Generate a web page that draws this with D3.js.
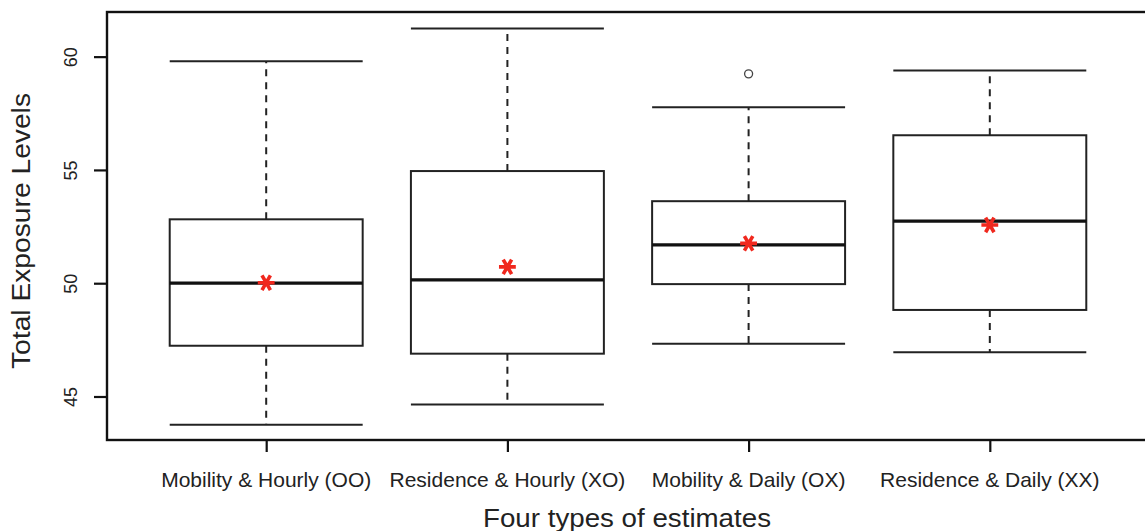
<!DOCTYPE html>
<html><head><meta charset="utf-8">
<script src="https://cdn.jsdelivr.net/npm/d3@7"></script>
<style>body{margin:0;background:#fff}svg{display:block}</style>
</head><body>
<svg id="c" width="1145" height="531"></svg>
<script>
const categories = ["Mobility & Hourly (OO)", "Residence & Hourly (XO)", "Mobility & Daily (OX)", "Residence & Daily (XX)"];
const whiskerLow  = [43.75, 44.65, 47.33, 46.95];
const q1          = [47.24, 46.89, 49.96, 48.82];
const medians     = [50.00, 50.15, 51.69, 52.74];
const q3          = [52.82, 54.95, 53.62, 56.53];
const whiskerHigh = [59.80, 61.24, 57.77, 59.39];
const means       = [50.02, 50.72, 51.76, 52.57];
const outliers    = [[], [], [59.24], []];
const yTicks      = [45, 50, 55, 60];

(function () {
const svg = d3.select("#c");
const pL = 107, pR = 1149, pT = 12, pB = 440;
const x = d3.scaleLinear().domain([0.34, 4.66]).range([pL, pR]);
const y = d3.scaleLinear().domain([43.08, 61.97]).range([pB, pT]);
const boxW = 0.8;
const font = "'Liberation Sans', Arial, Helvetica, sans-serif";
const col = "#222";

const data = categories.map((c, i) => ({c, i: i + 1, lo: whiskerLow[i], q1: q1[i], med: medians[i], q3: q3[i], hi: whiskerHigh[i], mean: means[i], out: outliers[i]}));

const g = svg.append("g");
const half = (x(1 + boxW / 2) - x(1 - boxW / 2)) / 2;

// whiskers (dashed)
g.append("g").selectAll("line").data(data).join("line")
  .attr("x1", d => x(d.i)).attr("x2", d => x(d.i))
  .attr("y1", d => y(d.q3)).attr("y2", d => y(d.hi))
  .attr("stroke", col).attr("stroke-width", 2).attr("stroke-dasharray", "7,6");
g.append("g").selectAll("line").data(data).join("line")
  .attr("x1", d => x(d.i)).attr("x2", d => x(d.i))
  .attr("y1", d => y(d.q1)).attr("y2", d => y(d.lo))
  .attr("stroke", col).attr("stroke-width", 2).attr("stroke-dasharray", "7,6");
// staples
["hi", "lo"].forEach(k => {
  g.append("g").selectAll("line").data(data).join("line")
    .attr("x1", d => x(d.i) - half).attr("x2", d => x(d.i) + half)
    .attr("y1", d => y(d[k])).attr("y2", d => y(d[k]))
    .attr("stroke", col).attr("stroke-width", 2);
});
// boxes
g.append("g").selectAll("rect").data(data).join("rect")
  .attr("x", d => x(d.i) - half).attr("width", 2 * half)
  .attr("y", d => y(d.q3)).attr("height", d => y(d.q1) - y(d.q3))
  .attr("fill", "#fff").attr("stroke", col).attr("stroke-width", 2);
// medians
g.append("g").selectAll("line").data(data).join("line")
  .attr("x1", d => x(d.i) - half).attr("x2", d => x(d.i) + half)
  .attr("y1", d => y(d.med)).attr("y2", d => y(d.med))
  .attr("stroke", "#111").attr("stroke-width", 3.2);
// outliers
data.forEach(d => d.out.forEach(v => {
  g.append("circle").attr("cx", x(d.i)).attr("cy", y(v)).attr("r", 4)
    .attr("fill", "none").attr("stroke", "#444").attr("stroke-width", 1.3);
}));
// means
const star = d3.symbol(d3.symbolAsterisk, 200);
g.append("g").selectAll("path").data(data).join("path")
  .attr("d", star)
  .attr("transform", d => `translate(${x(d.i)},${y(d.mean)}) rotate(90)`)
  .attr("fill", "none").attr("stroke", "#f0281e").attr("stroke-width", 3.6);

// frame
svg.append("rect").attr("x", pL).attr("y", pT).attr("width", pR - pL).attr("height", pB - pT)
  .attr("fill", "none").attr("stroke", "#111").attr("stroke-width", 2.4);

// y axis
const ya = svg.append("g").attr("transform", `translate(${pL},0)`)
  .call(d3.axisLeft(y).tickValues(yTicks).tickSize(13).tickPadding(0).tickFormat(d3.format("d")));
ya.select(".domain").remove();
ya.selectAll(".tick line").attr("stroke", "#111").attr("stroke-width", 2.2);
ya.selectAll(".tick text")
  .attr("font-family", font).attr("font-size", 18).attr("fill", "#222")
  .attr("text-anchor", "middle").attr("x", null).attr("dy", null)
  .attr("transform", "translate(-30,0) rotate(-90)");

// x axis
const xa = svg.append("g").attr("transform", `translate(0,${pB})`)
  .call(d3.axisBottom(x).tickValues(data.map(d => d.i)).tickSize(12).tickFormat(() => ""));
xa.select(".domain").remove();
xa.selectAll(".tick line").attr("stroke", "#111").attr("stroke-width", 2.2);
svg.append("g").selectAll("text").data(data).join("text")
  .attr("x", d => x(d.i)).attr("y", 487)
  .attr("text-anchor", "middle").attr("font-family", font).attr("font-size", 21)
  .attr("fill", "#222")
  .text(d => d.c);

// titles
svg.append("text").attr("x", 627).attr("y", 527).attr("text-anchor", "middle")
  .attr("font-family", font).attr("font-size", 25).attr("fill", "#222")
  .attr("textLength", 288).attr("lengthAdjust", "spacingAndGlyphs")
  .text("Four types of estimates");
svg.append("text").attr("transform", "translate(30,231) rotate(-90)").attr("text-anchor", "middle")
  .attr("font-family", font).attr("font-size", 25).attr("fill", "#222")
  .attr("textLength", 276).attr("lengthAdjust", "spacingAndGlyphs")
  .text("Total Exposure Levels");
})();
</script>
</body></html>
